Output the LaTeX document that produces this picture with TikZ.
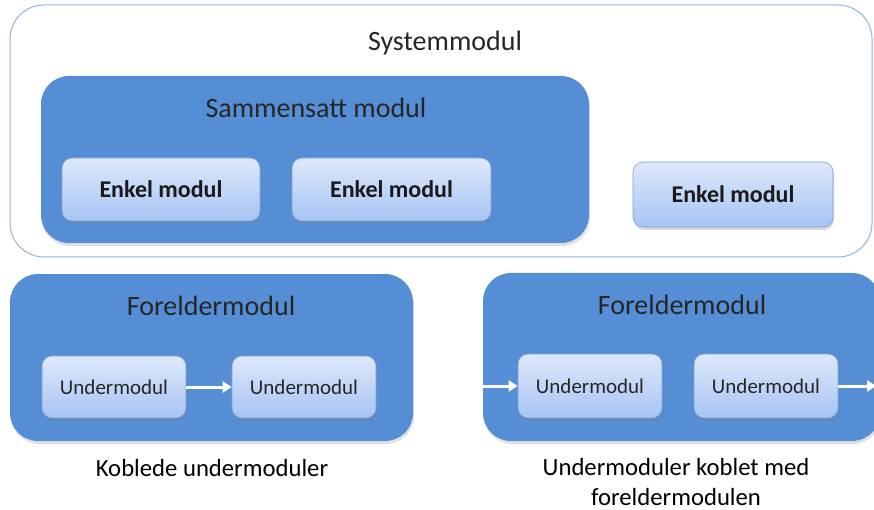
\documentclass[tikz,border=0pt]{standalone}
\usepackage{fontspec}
\setmainfont{Carlito}
\usetikzlibrary{shadows,arrows.meta}

\definecolor{panelblue}{RGB}{85,142,213}
\definecolor{frameline}{RGB}{149,179,215}
\definecolor{tiletop}{RGB}{222,232,250}
\definecolor{tilebottom}{RGB}{166,196,244}
\definecolor{tileline}{RGB}{125,160,215}

\tikzset{
  framebox/.style={draw=frameline, line width=1pt, fill=white, rounded corners=34pt},
  panel/.style={fill=panelblue, draw=none, rounded corners=28pt,
    drop shadow={shadow xshift=1pt, shadow yshift=-3pt, opacity=0.25}},
  tile/.style={draw=tileline, line width=0.6pt, top color=tiletop, bottom color=tilebottom,
    rounded corners=10pt,
    drop shadow={shadow xshift=1pt, shadow yshift=-3pt, opacity=0.3}},
  title/.style={inner sep=0pt, font=\fontsize{28}{32}\selectfont, text=black!85},
  tilelabel/.style={inner sep=0pt, font=\fontsize{24}{28}\selectfont\bfseries, text=black!90},
  sublabel/.style={inner sep=0pt, font=\fontsize{21}{25}\selectfont, text=black!85},
  caption/.style={inner sep=0pt, font=\fontsize{24.7}{30}\selectfont, align=center},
  flow/.style={draw=white, line width=3pt, -{Triangle[length=9pt,width=11pt]}}
}

\begin{document}
\begin{tikzpicture}[x=1pt,y=-1pt]
\useasboundingbox (0,0) rectangle (874,510);
\clip (0,0) rectangle (874,510);

% System module frame
\node[framebox, minimum width=862pt, minimum height=252pt] (sys) at (441,131) {};
\node[title] (systxt) at (445,43) {Systemmodul};

% Composite module with two simple modules
\node[panel, minimum width=548pt, minimum height=167pt] (comp) at (315,159.5) {};
\node[title] (comptxt) at (316,108) {Sammensatt modul};
\node[tile, minimum width=198pt, minimum height=63pt] (e1) at (161,189.5) {};
\node[tilelabel] (e1txt) at (e1) {Enkel modul};
\node[tile, minimum width=199pt, minimum height=63pt] (e2) at (391.5,189.5) {};
\node[tilelabel] (e2txt) at (e2) {Enkel modul};

% Stand-alone simple module
\node[tile, minimum width=200pt, minimum height=65pt] (e3) at (733,194.5) {};
\node[tilelabel] (e3txt) at (e3) {Enkel modul};

% Left parent: submodules linked to each other
\node[panel, minimum width=403pt, minimum height=167pt] (pl) at (211.5,357.5) {};
\node[title] (pltxt) at (211,306) {Foreldermodul};
\node[tile, minimum width=144pt, minimum height=62pt] (ul1) at (114,387) {};
\node[sublabel] (ul1txt) at (ul1) {Undermodul};
\node[tile, minimum width=144pt, minimum height=62pt] (ul2) at (304,387) {};
\node[sublabel] (ul2txt) at (ul2) {Undermodul};
\draw[flow] (ul1.east) -- (ul2.west);
\node[caption] (capl) at (212,468) {Koblede undermoduler};

% Right parent: submodules linked to the parent
\node[panel, minimum width=397pt, minimum height=168pt] (pr) at (681.5,357) {};
\node[title] (prtxt) at (682,305) {Foreldermodul};
\node[tile, minimum width=144pt, minimum height=64pt] (ur1) at (590,386) {};
\node[sublabel] (ur1txt) at (ur1) {Undermodul};
\node[tile, minimum width=144pt, minimum height=64pt] (ur2) at (766,386) {};
\node[sublabel] (ur2txt) at (ur2) {Undermodul};
\coordinate (inR) at (483,386);
\coordinate (outR) at (876,386);
\draw[flow] (inR) -- (ur1.west);
\draw[flow] (ur2.east) -- (outR);
\node[caption] (capr) at (676,482) {Undermoduler koblet med\\foreldermodulen};
\end{tikzpicture}
\end{document}
